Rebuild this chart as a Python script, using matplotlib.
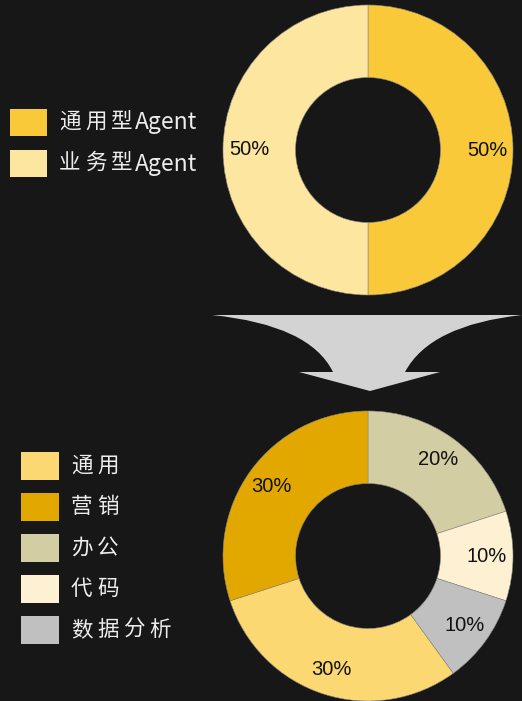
import matplotlib.pyplot as plt
from matplotlib.patches import Rectangle, PathPatch
from matplotlib.path import Path

plt.rcParams['font.family'] = ['Noto Sans CJK SC', 'DejaVu Sans']

# top donut
top_labels = ['通用型Agent', '业务型Agent']
top_values = [50, 50]
top_colors = ['#F9C93A', '#FDE6A0']

# bottom donut (legend order)
bottom_labels = ['通用', '营销', '办公', '代码', '数据分析']
bottom_values = [30, 30, 20, 10, 10]
bottom_colors = ['#FBD872', '#E3A800', '#D3CDA4', '#FEF1D3', '#C0C0C0']
# order the wedges run clockwise from 12 o'clock
bottom_order = ['办公', '代码', '数据分析', '通用', '营销']

BG = '#171717'
W, H = 522, 701

fig = plt.figure(figsize=(W / 100, H / 100), dpi=100)
fig.patch.set_facecolor(BG)

# pixel-space overlay for legends and arrow
ax = fig.add_axes([0, 0, 1, 1])
ax.set_xlim(0, W)
ax.set_ylim(H, 0)
ax.axis('off')
ax.set_facecolor(BG)


def donut(cx, cy, r, values, colors):
    pax = fig.add_axes([(cx - r) / W, (H - cy - r) / H, 2 * r / W, 2 * r / H])
    pax.pie(values, colors=colors, startangle=90, counterclock=False,
            autopct='%d%%', pctdistance=0.82,
            wedgeprops=dict(width=0.5, edgecolor='#8a8a80', linewidth=0.4),
            textprops=dict(family='Liberation Sans', fontsize=14.5, color='#111111'))
    pax.set_xlim(-1, 1)
    pax.set_ylim(-1, 1)
    pax.set_aspect('equal')
    return pax


donut(368, 150, 145, top_values, top_colors)

idx = [bottom_labels.index(n) for n in bottom_order]
donut(368, 556, 145, [bottom_values[i] for i in idx], [bottom_colors[i] for i in idx])


def spaced_text(x, y, s, adv=26):
    # CJK characters get a wide fixed advance, latin tail is drawn as one run
    i = 0
    while i < len(s) and ord(s[i]) > 0x2E80:
        ax.text(x + adv * i, y, s[i], color='#EDEDED', fontsize=15.5,
                va='center', ha='left')
        i += 1
    if i < len(s):
        ax.text(x + adv * i - 2, y + 1, s[i:], color='#EDEDED', fontsize=16.5,
                va='center', ha='left')


def legend(x, y0, step, labels, colors, pw, ph, tx):
    for i, (lab, c) in enumerate(zip(labels, colors)):
        yc = y0 + i * step
        ax.add_patch(Rectangle((x, yc - ph / 2), pw, ph, facecolor=c, edgecolor='none'))
        spaced_text(tx, yc, lab)


legend(10, 122, 41, top_labels, top_colors, 37, 27, 59)
legend(21, 466, 41, bottom_labels, bottom_colors, 38, 28, 71)

# arrow between the two donuts
verts = [(212, 315), (522, 315),
         (430, 325), (405, 372),
         (440, 372), (370, 391), (299, 372), (333, 372),
         (310, 325), (212, 315), (212, 315)]
codes = [Path.MOVETO, Path.LINETO,
         Path.CURVE3, Path.CURVE3,
         Path.LINETO, Path.LINETO, Path.LINETO, Path.LINETO,
         Path.CURVE3, Path.CURVE3, Path.CLOSEPOLY]
ax.add_patch(PathPatch(Path(verts, codes), facecolor='#D3D3D3', edgecolor='none'))

fig.savefig('out.png', dpi=100, facecolor=BG)
